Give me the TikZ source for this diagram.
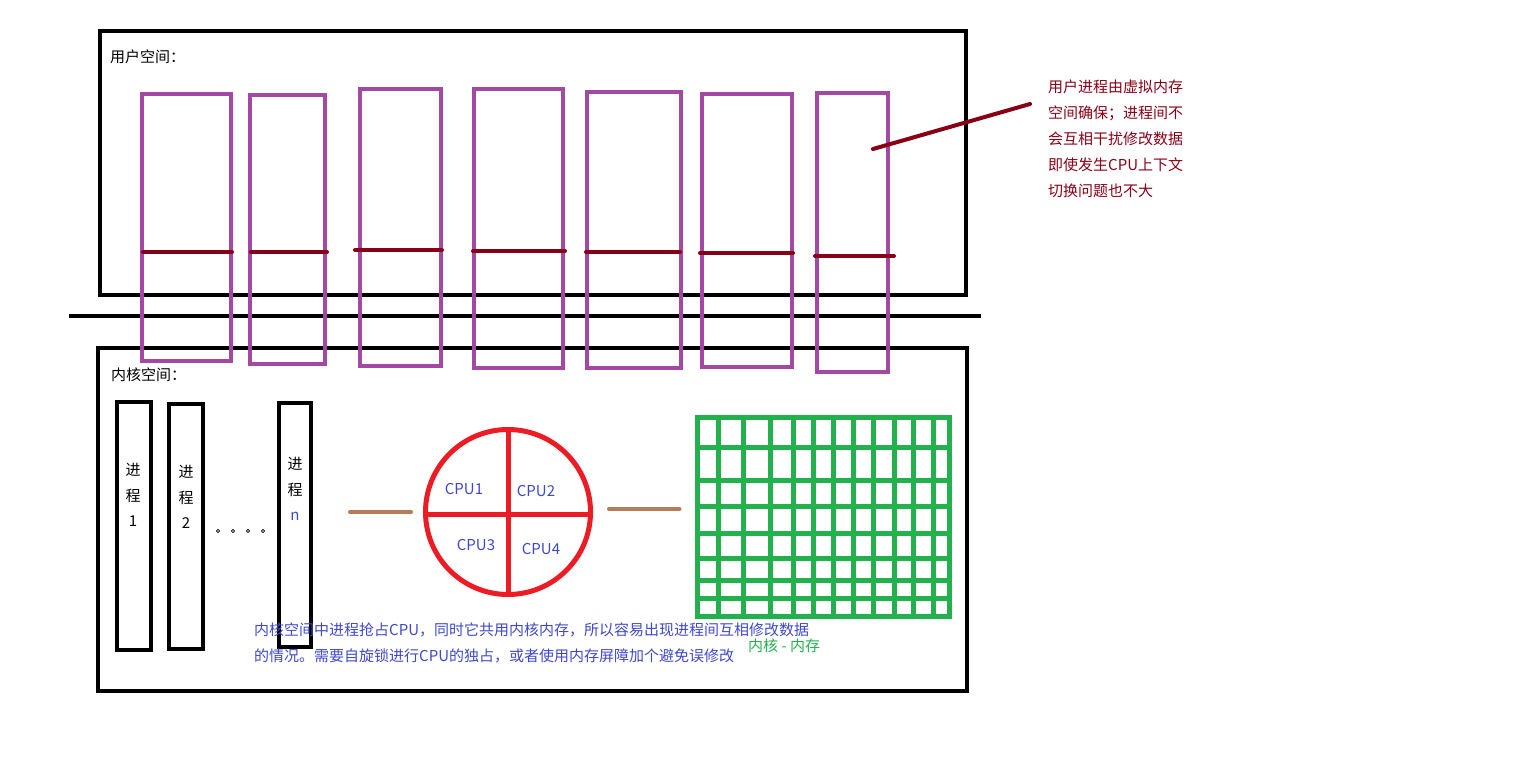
\documentclass[tikz,border=0pt]{standalone}
\usepackage{fontspec}
\setmainfont{Noto Sans CJK SC}
\definecolor{procpurple}{RGB}{163,73,164}
\definecolor{memred}{RGB}{136,0,21}
\definecolor{cpured}{RGB}{237,28,36}
\definecolor{linkbrown}{RGB}{185,122,87}
\definecolor{gridgreen}{RGB}{34,177,76}
\definecolor{cpublue}{RGB}{63,72,204}
\tikzset{
  frame/.style={draw=black, line width=4pt},
  ubox/.style={draw=procpurple, line width=4pt, inner sep=0pt},
  kbox/.style={draw=black, line width=4pt, inner sep=0pt},
  divider/.style={draw=memred, line width=4pt, line cap=round},
  link/.style={draw=linkbrown, line width=4pt, line cap=round},
  meshline/.style={draw=gridgreen, line width=5pt},
  txt/.style={inner sep=0pt, font=\fontsize{15}{25.8}\selectfont},
}
\begin{document}
\begin{tikzpicture}[x=1pt,y=-1pt]
\useasboundingbox (0,0) rectangle (1530,774);
% User Space and Kernel Space Frames
\draw[frame] (100,31) rectangle (966,295);
\draw[frame] (69,316) -- (981,316);
\draw[frame] (98,348) rectangle (967,691);
\node[txt, anchor=west] (ulabel) at (110,57) {用户空间：};
\node[txt, anchor=west] (klabel) at (111,375) {内核空间：};
% User Processes
\foreach \l/\t/\r/\b/\dl/\dr/\dy [count=\i] in {
    142/94/231/361/143/232/252, 250/95/325/364/251/327/252,
    360/89/441/366/355/442/250, 474/89/563/368/473/565/251,
    587/92/681/368/586/680/252, 702/94/792/367/700/793/253,
    817/93/888/372/815/894/256}{
  \node[ubox, minimum width={(\r-\l)*1pt}, minimum height={(\b-\t)*1pt}]
    (u\i) at ({(\l+\r)/2},{(\t+\b)/2}) {};
  \draw[divider] (\dl,\dy) -- (\dr,\dy);
}
% Note on User Processes
\coordinate (pin) at (873,149);
\coordinate (tip) at (1030,104);
\draw[divider] (pin) -- (tip);
\node[txt, anchor=north west, align=left, text=memred] (note) at (1048,80)
  {用户进程由虚拟内存\\空间确保；进程间不\\会互相干扰修改数据\\即使发生CPU上下文\\切换问题也不大};
% Kernel Processes
\node[kbox, minimum width=34pt, minimum height=248pt] (k1) at (134,526) {};
\node[kbox, minimum width=34pt, minimum height=245pt] (k2) at (186,526.5) {};
\node[kbox, minimum width=32pt, minimum height=244pt] (kn) at (295,525) {};
\node[txt, align=center] (t1) at (133,495) {进\\程\\1};
\node[txt, align=center] (t2) at (186,497) {进\\程\\2};
\node[txt, align=center] (tn) at (295,489) {进\\程\\\textcolor{cpublue}{n}};
\foreach \x in {218,233,248,263}
  \draw[black, line width=0.8pt] (\x,531) circle (1.6pt);
% CPUs
\node[circle, draw=cpured, line width=5pt, minimum size=165pt, inner sep=0pt] (cpu) at (508,512) {};
\draw[cpured, line width=5pt] (cpu.north) -- ([yshift=2pt]cpu.south);
\draw[cpured, line width=5pt] ([yshift=-2pt]cpu.west) -- ([yshift=-2pt]cpu.east);
\node[txt, text=cpublue] (c1) at (464,489) {CPU1};
\node[txt, text=cpublue] (c2) at (536,491) {CPU2};
\node[txt, text=cpublue] (c3) at (476,545) {CPU3};
\node[txt, text=cpublue] (c4) at (541,549) {CPU4};
% Kernel Memory
\node[meshline, minimum width=252pt, minimum height=199pt, inner sep=0pt] (mem) at (823,516.5) {};
\foreach \x in {718,743,770,793,813,833,853,873,894,913,933}
  \draw[meshline] (\x,417) -- (\x,616);
\foreach \y in {447,480,506,533,558,580,598}
  \draw[meshline] (697,\y) -- (949,\y);
\node[txt, anchor=west, text=gridgreen] (mlabel) at (748,646) {内核 - 内存};
% Links
\draw[link, shorten <=37pt, shorten >=12pt] (kn.east |- cpu.west) -- (cpu.west);
\draw[link, shorten <=16pt, shorten >=15pt] ([yshift=3pt]cpu.east) -- ([yshift=3pt]cpu.east -| mem.west);
% Description
\node[txt, anchor=north west, align=left, text=cpublue] (desc) at (254,623)
  {内核空间中进程抢占CPU，同时它共用内核内存，所以容易出现进程间互相修改数据\\的情况。需要自旋锁进行CPU的独占，或者使用内存屏障加个避免误修改};
\end{tikzpicture}
\end{document}
